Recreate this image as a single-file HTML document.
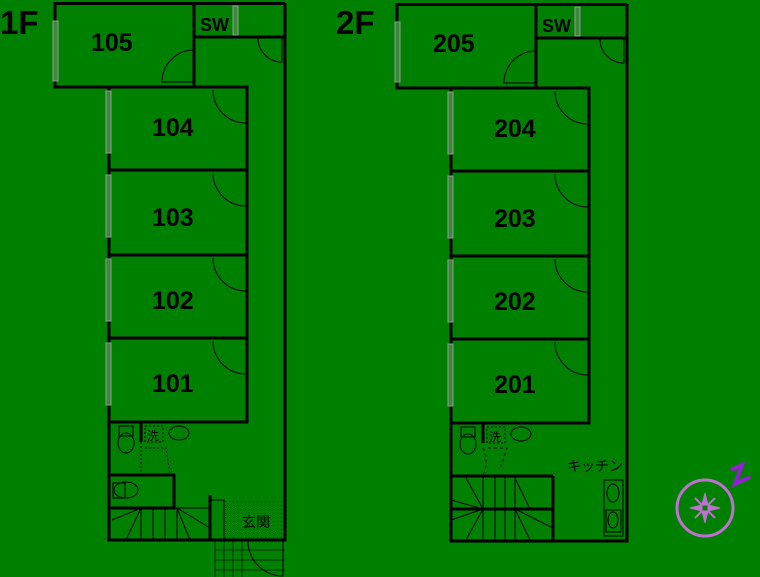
<!DOCTYPE html>
<html><head><meta charset="utf-8"><style>
html,body{margin:0;padding:0;background:#008000;}
svg{display:block}
text{font-family:"Liberation Sans","Noto Sans CJK JP",sans-serif;}
</style></head><body>
<svg width="760" height="577" viewBox="0 0 760 577" xmlns="http://www.w3.org/2000/svg">
<rect width="760" height="577" fill="#008000"/>
<defs>
<pattern id="dots" width="4" height="4" patternUnits="userSpaceOnUse"><rect x="1" y="1" width="1" height="1" fill="#000"/></pattern>
<g id="common">
  <rect x="55" y="3.5" width="139" height="83.5" fill="none" stroke="#000" stroke-width="3"/>
  <line x1="194" y1="3.5" x2="285" y2="3.5" stroke="#000" stroke-width="3"/>
  <line x1="194" y1="37" x2="285" y2="37" stroke="#000" stroke-width="3"/>
  <line x1="285" y1="3" x2="285" y2="541" stroke="#000" stroke-width="3"/>
  <rect x="53" y="21" width="5" height="60" fill="#3a8a3a" stroke="#999" stroke-width="1"/>
  <rect x="233" y="6" width="5" height="29" fill="#3a8a3a" stroke="#999" stroke-width="1"/>
  <path d="M194 50 A32 32 0 0 0 162 82 L194 82" fill="none" stroke="#000" stroke-width="1"/>
  <path d="M258 38 A24 24 0 0 0 282 62 L282 38" fill="none" stroke="#000" stroke-width="1"/>
  <text x="200" y="31" font-size="18" font-weight="bold">SW</text>
  <g fill="none" stroke="#000" stroke-width="3">
    <rect x="109" y="87" width="138" height="83"/>
    <rect x="109" y="170" width="138" height="85"/>
    <rect x="109" y="255" width="138" height="83"/>
    <rect x="109" y="338" width="138" height="84"/>
    <line x1="109" y1="422" x2="109" y2="541"/>
    <line x1="107.5" y1="540" x2="286.5" y2="540"/>
  </g>
  <g fill="#3a8a3a" stroke="#999" stroke-width="1">
    <rect x="106" y="91" width="5" height="62"/><rect x="106" y="175" width="5" height="62"/>
    <rect x="106" y="259" width="5" height="62"/><rect x="106" y="343" width="5" height="62"/>
  </g>
  <g fill="none" stroke="#000" stroke-width="1">
    <path d="M213 90 A33 33 0 0 0 246 123"/><path d="M213 173 A33 33 0 0 0 246 206"/>
    <path d="M213 258 A33 33 0 0 0 246 291"/><path d="M213 341 A33 33 0 0 0 246 374"/>
  </g>
  <line x1="141" y1="422" x2="141" y2="442" stroke="#000" stroke-width="3"/>
  <rect x="119" y="426" width="14" height="10" fill="none" stroke="#000" stroke-width="1"/>
  <ellipse cx="126" cy="443" rx="8" ry="10" fill="none" stroke="#000" stroke-width="1"/>
  <rect x="145" y="426" width="18" height="16" fill="none" stroke="#000" stroke-width="1" stroke-dasharray="2,2"/>
  <text x="147" y="440" font-size="12">洗</text>
  <ellipse cx="179" cy="433" rx="10" ry="7" fill="none" stroke="#000" stroke-width="1"/>
</g>
</defs>

<!-- 1F -->
<text x="0" y="34" font-size="33" font-weight="bold">1F</text>
<use href="#common"/>
<g font-size="25" font-weight="bold">
  <text x="91" y="51">105</text>
  <text x="152" y="136">104</text><text x="152" y="226">103</text>
  <text x="152" y="309">102</text><text x="152" y="392">101</text>
</g>
<line x1="141" y1="442" x2="141" y2="474" stroke="#000" stroke-width="1" stroke-dasharray="2,2"/>
<path d="M145 448 L166 448 L170 474" fill="none" stroke="#000" stroke-width="1" stroke-dasharray="2,2"/>
<rect x="109" y="475" width="65" height="33" fill="none" stroke="#000" stroke-width="3"/>
<rect x="113" y="483" width="12" height="15" fill="none" stroke="#000" stroke-width="1"/>
<ellipse cx="126" cy="490" rx="12" ry="8" fill="none" stroke="#000" stroke-width="1"/>
<g stroke="#000" stroke-width="1" fill="none">
  <line x1="109" y1="508" x2="210" y2="508"/>
  <line x1="141" y1="508" x2="141" y2="540"/><line x1="153" y1="508" x2="153" y2="540"/>
  <line x1="165" y1="508" x2="165" y2="540"/><line x1="177" y1="508" x2="177" y2="540"/>
  <line x1="141" y1="508" x2="112" y2="520"/><line x1="141" y1="508" x2="126" y2="540"/>
  <line x1="177" y1="508" x2="210" y2="528"/><line x1="177" y1="508" x2="190" y2="540"/>
</g>
<rect x="225" y="500" width="59" height="40" fill="url(#dots)" opacity="0.5"/>
<line x1="210" y1="495" x2="210" y2="541" stroke="#000" stroke-width="3"/>
<rect x="210" y="500" width="14" height="40" fill="none" stroke="#000" stroke-width="1"/>
<text x="242" y="527" font-size="14">玄関</text>
<g stroke="#000" stroke-width="1" opacity="0.6">
  <line x1="215" y1="550" x2="285" y2="550"/><line x1="215" y1="560" x2="285" y2="560"/><line x1="215" y1="570" x2="285" y2="570"/>
  <line x1="215" y1="541" x2="215" y2="577"/><line x1="224" y1="541" x2="224" y2="577"/><line x1="233" y1="541" x2="233" y2="577"/><line x1="242" y1="541" x2="242" y2="577"/>
</g>
<path d="M248 541 A35 35 0 0 0 283 576 L283 541" fill="none" stroke="#000" stroke-width="1"/>

<!-- 2F -->
<text x="336" y="34" font-size="33" font-weight="bold">2F</text>
<g transform="translate(342,1)">
  <use href="#common"/>
  <g font-size="25" font-weight="bold">
    <text x="91" y="51">205</text>
    <text x="152" y="136">204</text><text x="152" y="226">203</text>
    <text x="152" y="309">202</text><text x="152" y="392">201</text>
  </g>
</g>
<path d="M483 448 A30 30 0 0 1 483 475" fill="none" stroke="#000" stroke-width="1" stroke-dasharray="3,3"/>
<path d="M488 448 L507 448 L500 470" fill="none" stroke="#000" stroke-width="1" stroke-dasharray="3,3"/>
<g stroke="#000" stroke-width="3" fill="none">
  <line x1="451" y1="476" x2="553" y2="476"/>
  <line x1="553" y1="476" x2="553" y2="541"/>
  <line x1="451" y1="509" x2="553" y2="509"/>
</g>
<g stroke="#000" stroke-width="1" fill="none">
  <line x1="483" y1="476" x2="483" y2="540"/><line x1="495" y1="476" x2="495" y2="540"/>
  <line x1="505" y1="476" x2="505" y2="540"/><line x1="515" y1="476" x2="515" y2="540"/>
  <line x1="466" y1="478" x2="483" y2="509"/><line x1="451" y1="500" x2="483" y2="509"/>
  <line x1="515" y1="478" x2="530" y2="509"/>
  <line x1="451" y1="520" x2="483" y2="509"/><line x1="466" y1="540" x2="483" y2="509"/>
  <line x1="515" y1="509" x2="553" y2="528"/><line x1="515" y1="509" x2="530" y2="540"/>
  <rect x="604" y="480" width="19" height="56"/>
  <ellipse cx="613" cy="493" rx="6" ry="9"/>
  <rect x="606" y="510" width="15" height="22"/><ellipse cx="613" cy="520" rx="5" ry="8"/>
</g>
<text x="567" y="471" font-size="14">キッチン</text>

<!-- compass -->
<g stroke="#c070d0" fill="none">
  <circle cx="705" cy="508" r="28" stroke-width="3"/>
  <path d="M705 493 L708 505 L720 508 L708 511 L705 523 L702 511 L690 508 L702 505 Z" fill="#c070d0" stroke-width="1"/>
  <path d="M695 498 L715 518 M715 498 L695 518" stroke-width="2"/>
  <rect x="702" y="505" width="6" height="6" fill="#008000" stroke-width="1"/>
  <path d="M731 470 L742 465 L735 484 L750 477" stroke="#9020d0" stroke-width="4"/>
</g>
</svg>
</body></html>
